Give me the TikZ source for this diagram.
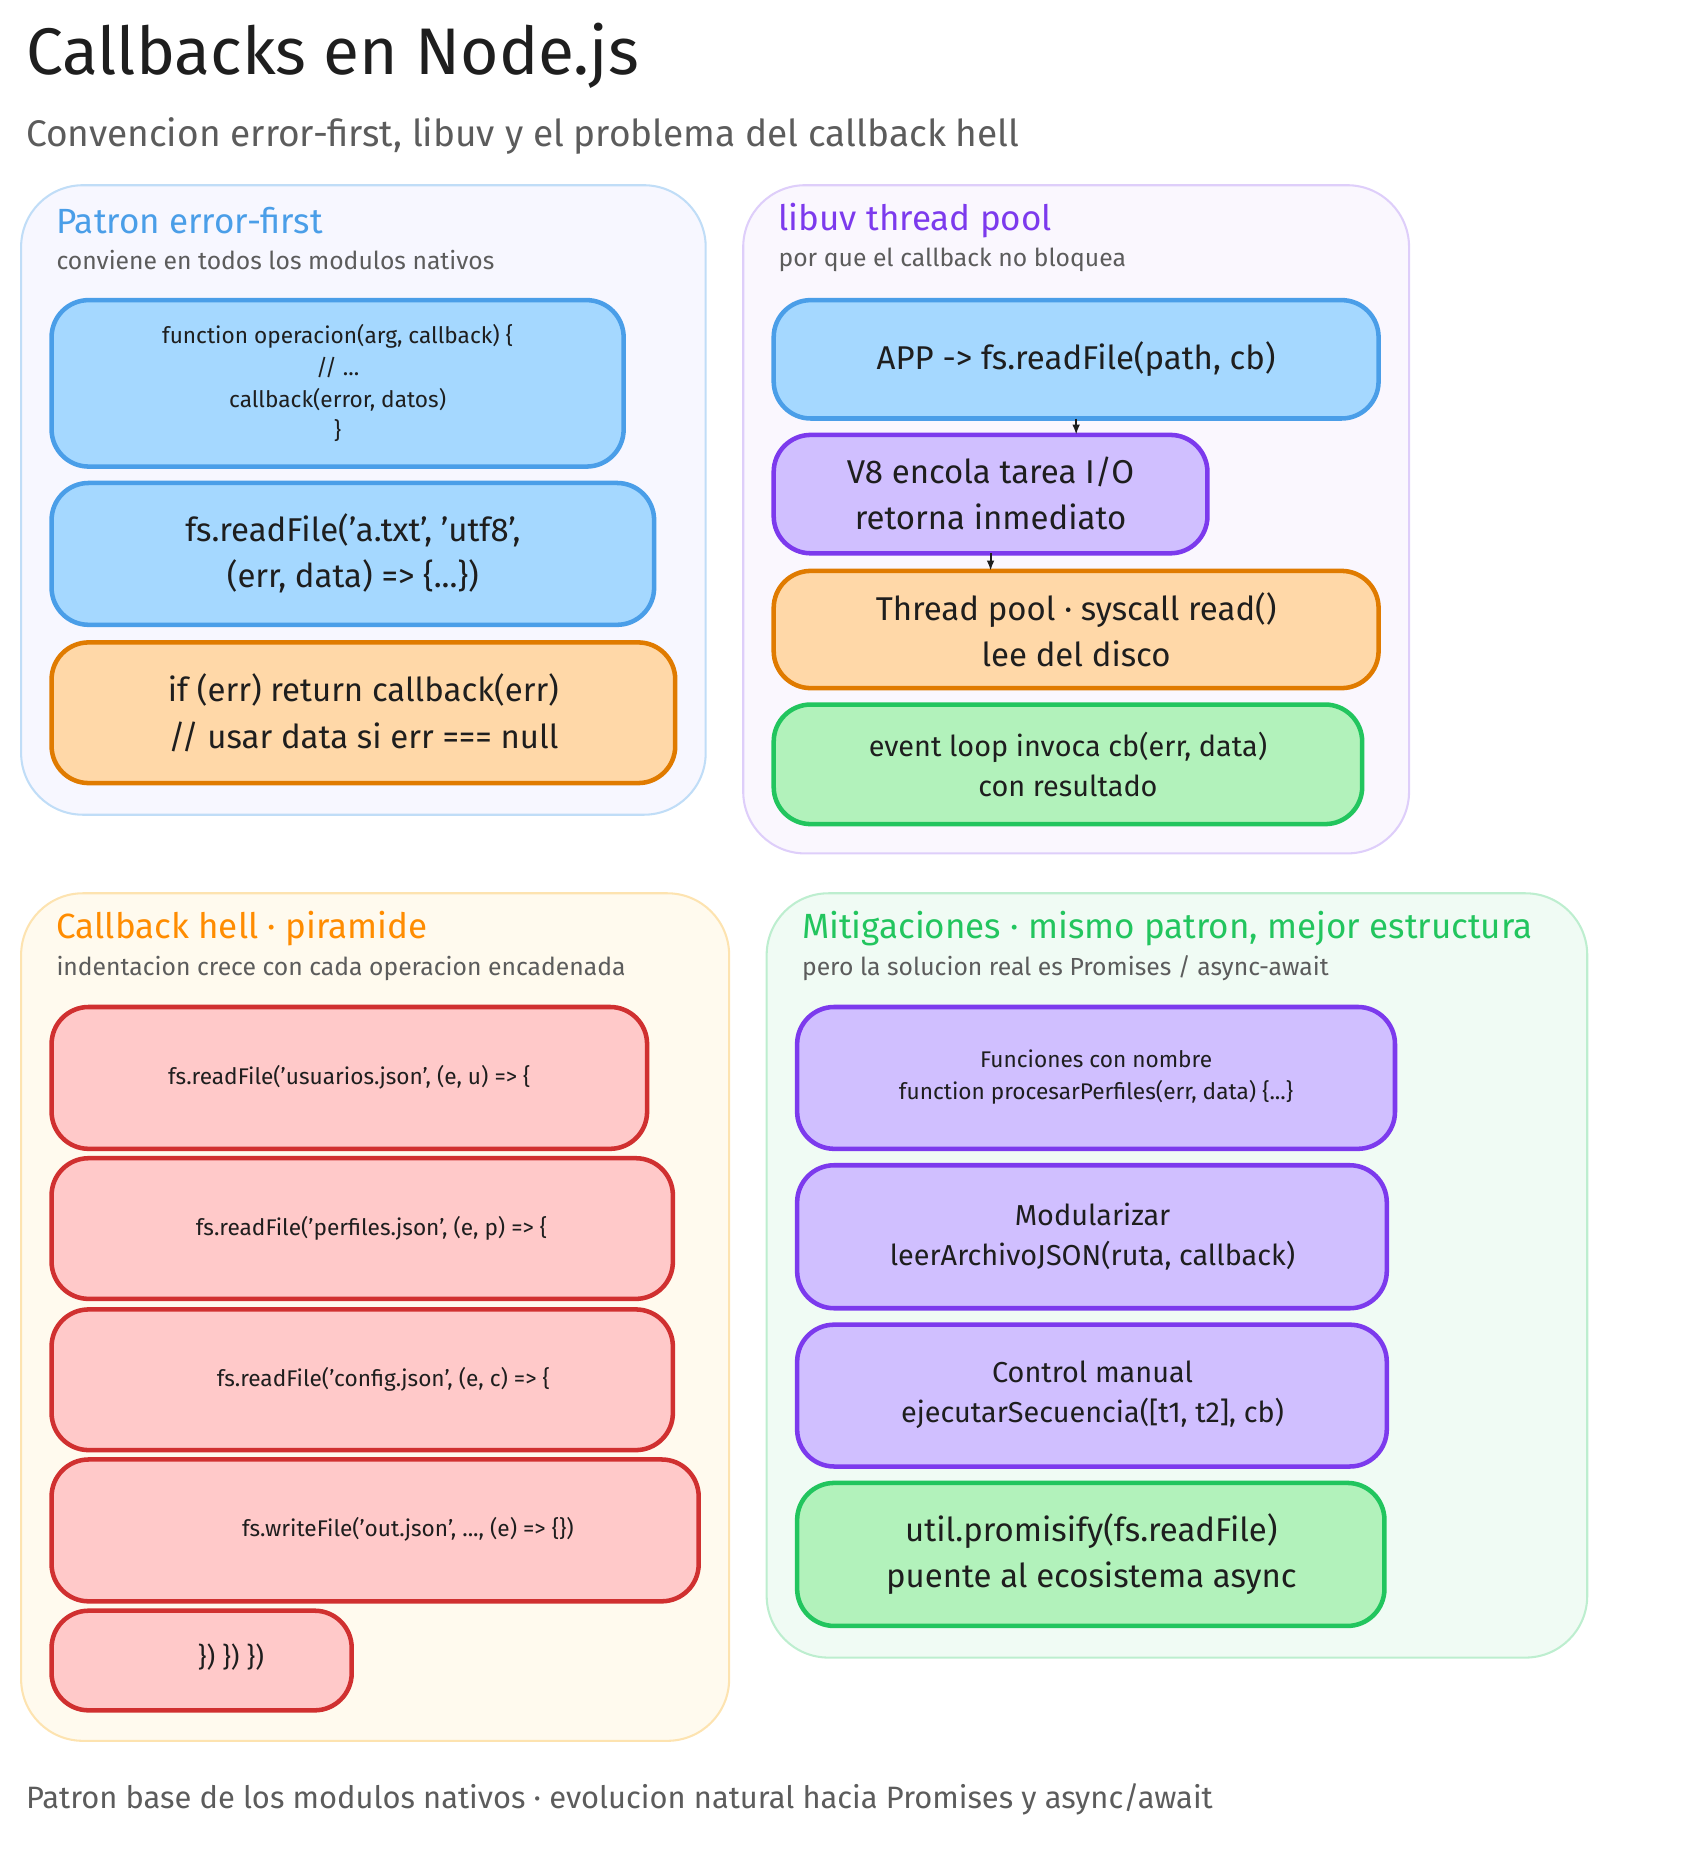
\documentclass[tikz,border=0pt]{standalone}
\usepackage{fontspec}
\setmainfont{Fira Sans}
\usetikzlibrary{arrows.meta}
\definecolor{bluef}{HTML}{A5D8FF}\definecolor{blues}{HTML}{4A9EE8}
\definecolor{orf}{HTML}{FFD8A8}\definecolor{ors}{HTML}{E07B00}
\definecolor{puf}{HTML}{D0BFFF}\definecolor{pus}{HTML}{7C3AED}
\definecolor{grf}{HTML}{B2F2BB}\definecolor{grs}{HTML}{22C55E}
\definecolor{ref}{HTML}{FFC9C9}\definecolor{res}{HTML}{D03030}
\definecolor{ink}{HTML}{1E1E1E}\definecolor{gr}{HTML}{5C5C5C}
\definecolor{p3f}{HTML}{FFFAEE}\definecolor{p3s}{HTML}{FDE3B0}
\newcommand{\fs}[1]{\fontsize{#1}{\dimexpr #1*14/10\relax}\selectfont}
\begin{document}
\begin{tikzpicture}[x=0.02cm,y=-0.02cm,
 panel/.style={rounded corners=30, line width=1pt},
 box/.style={rounded corners=18, line width=2.2pt},
 lbl/.style={align=center, text=ink},
 ttl/.style={anchor=west, font=\fs{17pt}},
 sub/.style={anchor=west, text=gr, font=\fs{12pt}},
 arr/.style={-{Latex[length=5pt]}, line width=1pt, ink}]
\useasboundingbox (0,0) rectangle (1440,1579);
\node[anchor=west,text=ink,font=\fs{32pt}] (title) at (16,48) {Callbacks en Node.js};
\node[anchor=west,text=gr,font=\fs{18pt}] (subt) at (16,116) {Convencion error-first, libuv y el problema del callback hell};
% panels
\draw[panel, fill=blue!3, draw=blues!35] (18,158) rectangle (602,695);
\draw[panel, fill=pus!4, draw=pus!25] (634,158) rectangle (1202,728);
\draw[panel, fill=p3f, draw=p3s] (18,762) rectangle (622,1485);
\draw[panel, fill=grs!7, draw=grs!30] (654,762) rectangle (1354,1414);
\node[ttl,text=blues] (t1) at (42,188) {Patron error-first};
\node[sub] (s1) at (42,222) {conviene en todos los modulos nativos};
\node[ttl,text=pus] (t2) at (658,188) {libuv thread pool};
\node[sub] (s2) at (658,222) {por que el callback no bloquea};
\node[ttl,text=orange!90!yellow] (t3) at (42,792) {Callback hell · piramide};
\node[sub] (s3) at (42,826) {indentacion crece con cada operacion encadenada};
\node[ttl,text=grs] (t4) at (678,792) {Mitigaciones · mismo patron, mejor estructura};
\node[sub] (s4) at (678,826) {pero la solucion real es Promises / async-await};
% panel 1
\draw[box,fill=bluef,draw=blues] (44,256) rectangle (532,398);
\node[lbl,font=\fs{11pt}] (b1) at (288,327) {function operacion(arg, callback) \{\\// ...\\callback(error, datos)\\\}};
\draw[box,fill=bluef,draw=blues] (44,412) rectangle (558,533);
\node[lbl,font=\fs{16pt}] (b2) at (301,472) {fs.readFile('a.txt', 'utf8',\\(err, data) => \{...\})};
\draw[box,fill=orf,draw=ors] (44,548) rectangle (576,668);
\node[lbl,font=\fs{16pt}] (b3) at (310,608) {if (err) return callback(err)\\// usar data si err === null};
% panel 2
\draw[box,fill=bluef,draw=blues] (660,256) rectangle (1176,357);
\node[lbl,font=\fs{16pt}] (c1) at (918,306) {APP -> fs.readFile(path, cb)};
\draw[box,fill=puf,draw=pus] (660,371) rectangle (1030,472);
\node[lbl,font=\fs{16pt}] (c2) at (845,421) {V8 encola tarea I/O\\retorna inmediato};
\draw[box,fill=orf,draw=ors] (660,487) rectangle (1176,587);
\node[lbl,font=\fs{16pt}] (c3) at (918,537) {Thread pool · syscall read()\\lee del disco};
\draw[box,fill=grf,draw=grs] (660,601) rectangle (1162,703);
\node[lbl,font=\fs{14pt}] (c4) at (911,652) {event loop invoca cb(err, data)\\con resultado};
\coordinate (a1) at (918,357); \coordinate (a2) at (918,371);
\coordinate (a3) at (845,472); \coordinate (a4) at (845,487);
\draw[arr] (a1) -- (a2);
\draw[arr] (a3) -- (a4);
% panel 3
\draw[box,fill=ref,draw=res] (44,859) rectangle (552,980);
\node[lbl,font=\fs{11pt}] (d1) at (298,919) {fs.readFile('usuarios.json', (e, u) => \{};
\draw[box,fill=ref,draw=res] (44,988) rectangle (574,1108);
\node[lbl,font=\fs{11pt}] (d2) at (317,1048) {fs.readFile('perfiles.json', (e, p) => \{};
\draw[box,fill=ref,draw=res] (44,1117) rectangle (574,1237);
\node[lbl,font=\fs{11pt}] (d3) at (327,1177) {fs.readFile('config.json', (e, c) => \{};
\draw[box,fill=ref,draw=res] (44,1245) rectangle (596,1366);
\node[lbl,font=\fs{11pt}] (d4) at (348,1305) {fs.writeFile('out.json', ..., (e) => \{\})};
\draw[box,fill=ref,draw=res] (44,1374) rectangle (300,1459);
\node[lbl,font=\fs{13pt}] (d5) at (197,1414) {\}) \}) \})};
% panel 4
\draw[box,fill=puf,draw=pus] (680,859) rectangle (1190,980);
\node[lbl,font=\fs{11pt}] (e1) at (935,919) {Funciones con nombre\\function procesarPerfiles(err, data) \{...\}};
\draw[box,fill=puf,draw=pus] (680,994) rectangle (1183,1116);
\node[lbl,font=\fs{14pt}] (e2) at (932,1055) {Modularizar\\leerArchivoJSON(ruta, callback)};
\draw[box,fill=puf,draw=pus] (680,1130) rectangle (1183,1251);
\node[lbl,font=\fs{14pt}] (e3) at (932,1190) {Control manual\\ejecutarSecuencia([t1, t2], cb)};
\draw[box,fill=grf,draw=grs] (680,1265) rectangle (1181,1387);
\node[lbl,font=\fs{16pt}] (e4) at (931,1326) {util.promisify(fs.readFile)\\puente al ecosistema async};
\node[anchor=west,text=gr,font=\fs{15pt}] (foot) at (16,1535) {Patron base de los modulos nativos · evolucion natural hacia Promises y async/await};
\end{tikzpicture}
\end{document}
